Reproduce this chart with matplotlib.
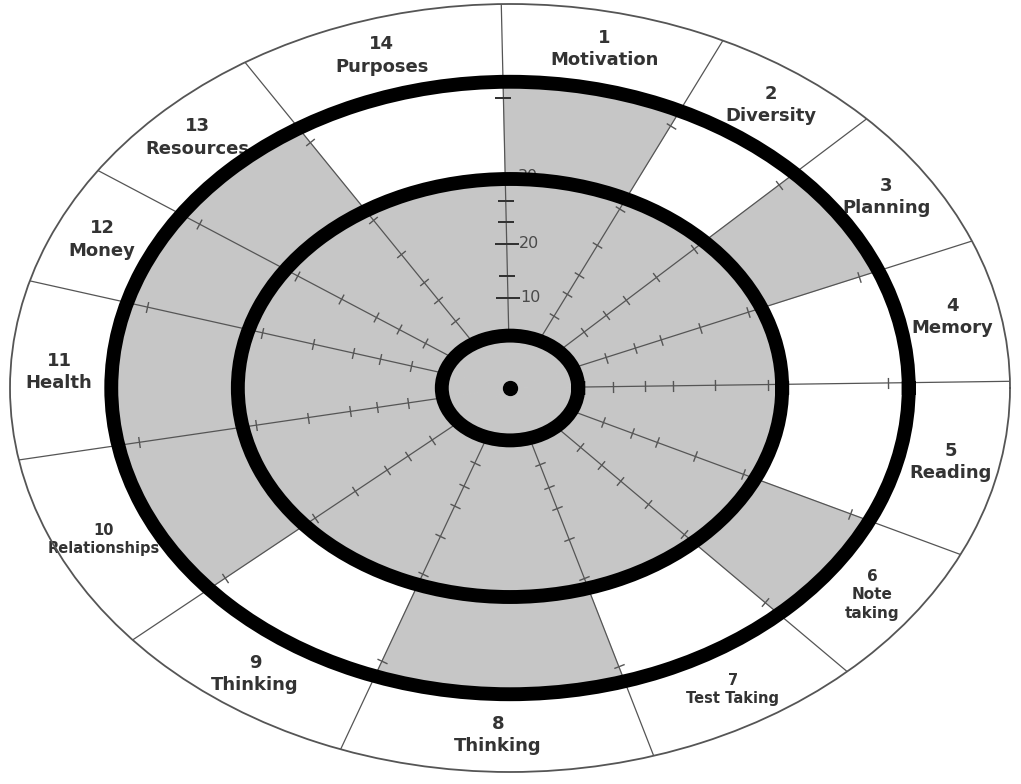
import numpy as np
import matplotlib
matplotlib.use("Agg")
import matplotlib.pyplot as plt

# wheel categories, clockwise from the top
categories = ["Motivation", "Diversity", "Planning", "Memory", "Reading",
              "Note\ntaking", "Test Taking", "Thinking", "Thinking",
              "Relationships", "Health", "Money", "Resources", "Purposes"]
# sector boundaries (deg, ccw from 3 o'clock)
edges_deg = [91, 64.8, 44.5, 22.5, 1, -25.7, -47.6, -73.3, -109.8,
             -139, -169.2, -196.2, -214.5, -238, -269]
# how far the grey shading reaches in each sector
scores = [50, 32, 50, 32, 32, 50, 32, 50, 32, 50, 50, 50, 50, 32]
rings = [3, 32, 50]
scale_labels = [10, 20, 30]
scale_minor = [14, 24, 28, 47]
spoke_ticks = [8, 12.5, 16.5, 22.5, 30, 47]
r_min, r_max = -6.7, 64.4

small_font = {"Note\ntaking": 11, "Test Taking": 10.5, "Relationships": 10.5}

edges = np.radians(edges_deg)
mids = (edges[:-1] + edges[1:]) / 2
widths = edges[:-1] - edges[1:]

fig = plt.figure(figsize=(10.21, 7.84), dpi=100)
ax = fig.add_axes([10 / 1021, 12 / 784, 1000 / 1021, 768 / 784], projection="polar")
ax.set_aspect("auto")
ax.set_ylim(r_min, r_max)

# grey shading per sector
ax.bar(mids, np.array(scores) - r_min, width=widths, bottom=r_min,
       color="#c6c6c6", edgecolor="#c6c6c6", linewidth=0.6, zorder=1)

# spokes from the inner ring outwards
ax.vlines(edges[:-1], rings[0], r_max, colors="#555555", linewidth=0.9, zorder=2)

# little ticks across each spoke
stretch = 500 / 384
for th in edges[1:-1]:
    phi = np.degrees(np.arctan2(np.sin(th), stretch * np.cos(th)))
    ax.plot([th] * len(spoke_ticks), spoke_ticks, linestyle="none",
            marker=(2, 0, phi), markersize=8, mew=1.0, color="#555555", zorder=2)

# scale on the top spoke
top = edges[0]
ax.plot([top] * len(scale_labels[:2]), scale_labels[:2], linestyle="none",
        marker="_", markersize=17, mew=1.3, color="#333333", zorder=2)
ax.plot([top] * len(scale_minor), scale_minor, linestyle="none",
        marker="_", markersize=12, mew=1.3, color="#333333", zorder=2)
for v in scale_labels:
    ax.annotate(str(v), (top, v if v < 30 else 32.4), xytext=(9, 0),
                textcoords="offset points", ha="left", va="center",
                fontsize=11.5, color="#4a4a4a", zorder=2)

# centre dot
ax.plot([0], [r_min], marker="o", markersize=10, color="black", zorder=4)

# category labels in the outer band
for i, (m, name) in enumerate(zip(mids, categories)):
    ax.text(m, 57.5, f"{i + 1}\n{name}", ha="center", va="center",
            fontsize=small_font.get(name, 13), fontweight="bold",
            color="#333333", linespacing=1.3, zorder=2)

# thick rings = radial grid lines
ax.set_yticks(rings)
ax.set_yticklabels([])
ax.set_xticks([])
ax.set_axisbelow(False)
ax.yaxis.grid(True, color="black", linewidth=10)
ax.xaxis.grid(False)
ax.spines["polar"].set_color("#555555")
ax.spines["polar"].set_linewidth(1.3)

fig.savefig("out.png", dpi=100, facecolor="white")
